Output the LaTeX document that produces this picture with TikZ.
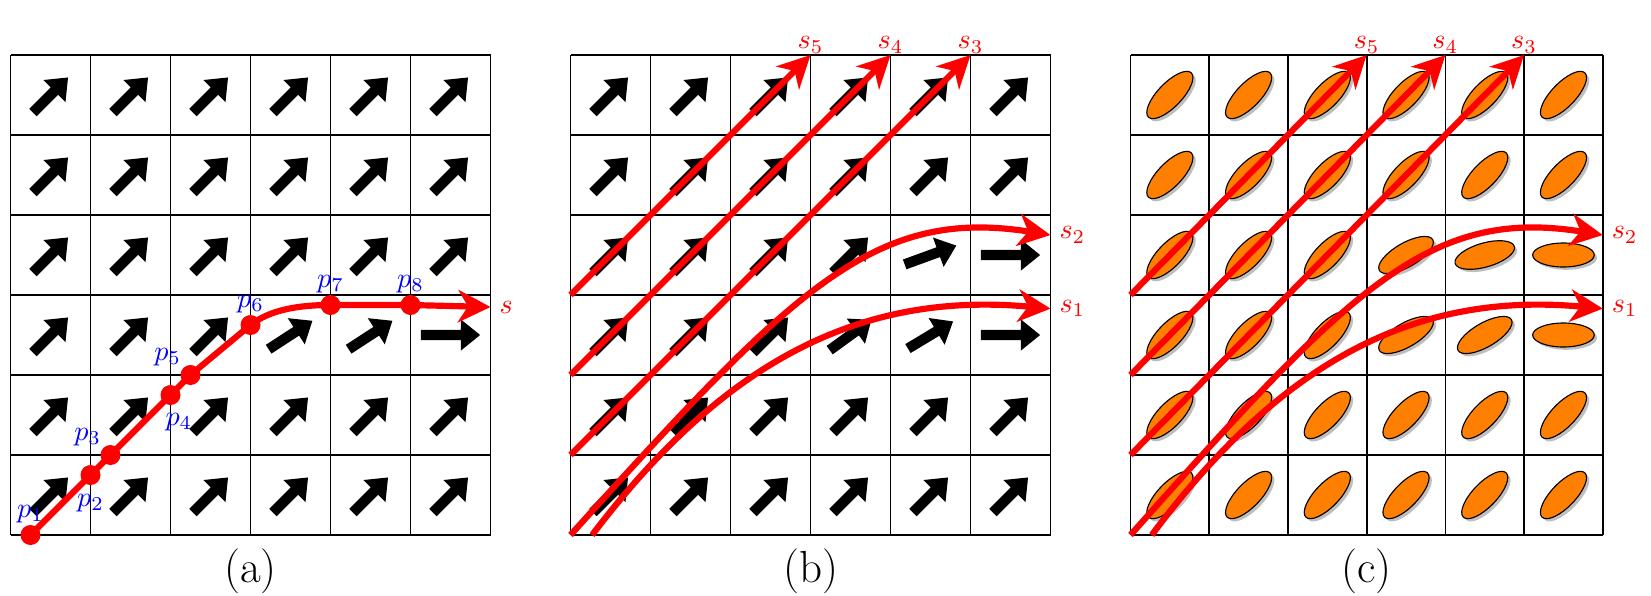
\documentclass[tikz,border=0pt]{standalone}
\usepackage{amsmath}
\usetikzlibrary{positioning,arrows.meta}
\definecolor{flowred}{RGB}{255,0,0}
\definecolor{ptblue}{RGB}{0,0,255}
\definecolor{cellorange}{RGB}{255,128,0}
\tikzset{
  gridline/.style={black, line width=0.6pt},
  streamline/.style={flowred, line width=2.2pt, -{Stealth[length=11.5pt, width=11.5pt, inset=3.5pt]}},
  ptdot/.style={circle, fill=flowred, inner sep=0pt, minimum size=0.25cm},
  ptlabel/.style={text=ptblue, inner sep=0.5pt},
  slabel/.style={text=flowred, inner sep=0.5pt},
  caption/.style={anchor=base, inner sep=0pt, font=\fontsize{16}{19}\selectfont},
  ellshadow/.style={fill=gray!50},
  ellbody/.style={fill=cellorange, draw=black, line width=0.4pt},
  pics/flowarrow/.style={code={
    \pgfmathsetmacro\arrlen{0.74-0.12*#1/45}
    \fill[rotate=#1] ({-\arrlen/2},-0.065) -- ({\arrlen/2-0.24},-0.065) -- ({\arrlen/2-0.24},-0.195)
      -- ({\arrlen/2},0) -- ({\arrlen/2-0.24},0.195) -- ({\arrlen/2-0.24},0.065) -- ({-\arrlen/2},0.065) -- cycle;
  }},
  pics/cellellipse/.style={code={
    \fill[ellshadow, shift={(0.035,-0.035)}, rotate=#1] (0,0) ellipse [x radius=0.385, y radius=0.15];
    \filldraw[ellbody, rotate=#1] (0,0) ellipse [x radius=0.385, y radius=0.15];
  }}
}

\begin{document}
\begin{tikzpicture}
  \useasboundingbox (-0.13125,-0.75) rectangle (20.50625,6.6875);

  % (a) one streamline through sample points
  \begin{scope}
    \draw[gridline] (0,0) grid (6,6);
    \foreach \x in {0,...,5} \foreach \y in {0,1,3,4,5} \pic at (\x+0.5,\y+0.5) {flowarrow=45};
    \foreach \x in {0,1,2} \pic at (\x+0.5,2.5) {flowarrow=45};
    \pic at (3.5,2.5) {flowarrow=33};
    \pic at (4.5,2.5) {flowarrow=33};
    \pic at (5.5,2.5) {flowarrow=0};

    \node[ptdot] (p1) at (0.25,0) {};
    \node[ptdot] (p2) at (1,0.75) {};
    \node[ptdot] (p3) at (1.25,1) {};
    \node[ptdot] (p4) at (2,1.75) {};
    \node[ptdot] (p5) at (2.25,2) {};
    \node[ptdot] (p6) at (3,2.625) {};
    \node[ptdot] (p7) at (4,2.875) {};
    \node[ptdot] (p8) at (5,2.875) {};
    \coordinate (aend) at (6,2.85);
    \draw[streamline] (p1.center) -- (p2.center) -- (p3.center) -- (p4.center) -- (p5.center) -- (p6.center)
      .. controls (3.2,2.78) and (3.5,2.875) .. (p7.center) -- (p8.center) -- (aend);

    \node[ptlabel, above=0pt of p1] (p1l) {$p_1$};
    \node[ptlabel, below=2.5pt of p2] (p2l) {$p_2$};
    \node[ptlabel, above left=0pt of p3] (p3l) {$p_3$};
    \node[ptlabel, below=2pt of p4, xshift=3pt] (p4l) {$p_4$};
    \node[ptlabel, above left=0pt of p5] (p5l) {$p_5$};
    \node[ptlabel, above=0pt of p6] (p6l) {$p_6$};
    \node[ptlabel, above=0pt of p7] (p7l) {$p_7$};
    \node[ptlabel, above=0pt of p8] (p8l) {$p_8$};
    \node[slabel, right=2.5pt of aend] (alabel) {$s$};
    \node[caption] (acap) at (3,-0.5875) {(a)};
  \end{scope}

  % (b) several streamlines over the arrow field
  \begin{scope}[shift={(7,0)}]
    \draw[gridline] (0,0) grid (6,6);
    \foreach \x in {0,...,5} \foreach \y in {0,1,4,5} \pic at (\x+0.5,\y+0.5) {flowarrow=45};
    \foreach \x in {0,1,2} \pic at (\x+0.5,2.5) {flowarrow=45};
    \foreach \x in {0,...,3} \pic at (\x+0.5,3.5) {flowarrow=45};
    \pic at (3.5,2.5) {flowarrow=36};
    \pic at (4.5,2.5) {flowarrow=31};
    \pic at (5.5,2.5) {flowarrow=0};
    \pic at (4.5,3.5) {flowarrow=20};
    \pic at (5.5,3.5) {flowarrow=0};

    \coordinate (b1s) at (0.27,0);  \coordinate (b1e) at (6,2.83);
    \coordinate (b2s) at (0,0);     \coordinate (b2e) at (6,3.75);
    \coordinate (b3s) at (0,1);     \coordinate (b3e) at (5,6);
    \coordinate (b4s) at (0,2);     \coordinate (b4e) at (4,6);
    \coordinate (b5s) at (0,3);     \coordinate (b5e) at (3,6);
    \draw[streamline] (b1s) .. controls (1.9,2.15) and (3.6,3.05) .. (b1e);
    \draw[streamline] (b2s) .. controls (2.8,3.1) and (3.8,4.1) .. (b2e);
    \draw[streamline] (b3s) -- (b3e);
    \draw[streamline] (b4s) -- (b4e);
    \draw[streamline] (b5s) -- (b5e);
    \node[slabel, right=2.5pt of b1e] (b1l) {$s_1$};
    \node[slabel, right=2.5pt of b2e] (b2l) {$s_2$};
    \node[slabel, above=0pt of b3e] (b3l) {$s_3$};
    \node[slabel, above=0pt of b4e] (b4l) {$s_4$};
    \node[slabel, above=0pt of b5e] (b5l) {$s_5$};
    \node[caption] (bcap) at (3,-0.5875) {(b)};
  \end{scope}

  % (c) the same streamlines over ellipses
  \begin{scope}[shift={(14,0)}, xscale=0.984]
    \draw[gridline] (0,0) grid (6,6);
    \foreach \x in {0,...,5} \foreach \y in {0,1,4,5} \pic at (\x+0.5,\y+0.5) {cellellipse=46};
    \foreach \x in {0,1,2} \pic at (\x+0.5,2.5) {cellellipse=46};
    \foreach \x in {0,1,2} \pic at (\x+0.5,3.5) {cellellipse=46};
    \pic at (3.5,2.5) {cellellipse=30};
    \pic at (4.5,2.5) {cellellipse=30};
    \pic at (5.5,2.5) {cellellipse=0};
    \pic at (3.5,3.5) {cellellipse=30};
    \pic at (4.5,3.5) {cellellipse=16};
    \pic at (5.5,3.5) {cellellipse=0};

    \coordinate (c1s) at (0.27,0);  \coordinate (c1e) at (6,2.83);
    \coordinate (c2s) at (0,0);     \coordinate (c2e) at (6,3.75);
    \coordinate (c3s) at (0,1);     \coordinate (c3e) at (5,6);
    \coordinate (c4s) at (0,2);     \coordinate (c4e) at (4,6);
    \coordinate (c5s) at (0,3);     \coordinate (c5e) at (3,6);
    \draw[streamline] (c1s) .. controls (1.9,2.15) and (3.6,3.05) .. (c1e);
    \draw[streamline] (c2s) .. controls (2.8,3.1) and (3.8,4.1) .. (c2e);
    \draw[streamline] (c3s) -- (c3e);
    \draw[streamline] (c4s) -- (c4e);
    \draw[streamline] (c5s) -- (c5e);
    \node[slabel, right=2.5pt of c1e] (c1l) {$s_1$};
    \node[slabel, right=2.5pt of c2e] (c2l) {$s_2$};
    \node[slabel, above=0pt of c3e] (c3l) {$s_3$};
    \node[slabel, above=0pt of c4e] (c4l) {$s_4$};
    \node[slabel, above=0pt of c5e] (c5l) {$s_5$};
    \node[caption] (ccap) at (3,-0.5875) {(c)};
  \end{scope}
\end{tikzpicture}
\end{document}
